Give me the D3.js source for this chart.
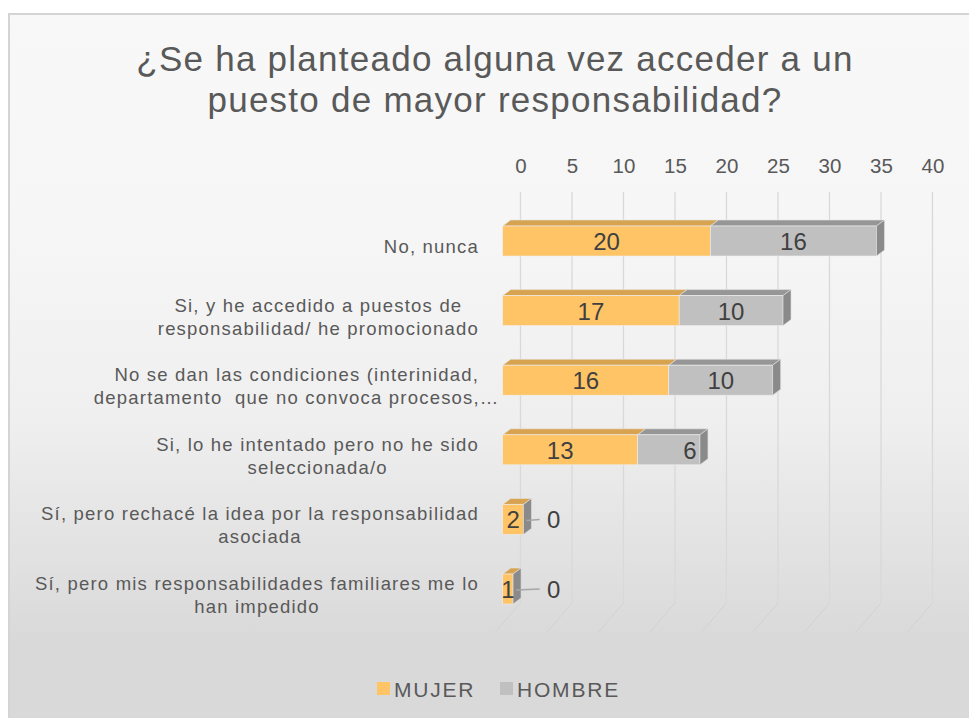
<!DOCTYPE html>
<html>
<head>
<meta charset="utf-8">
<script src="https://cdn.jsdelivr.net/npm/d3@7"></script>
<style>
  html, body { margin: 0; padding: 0; background: #ffffff; }
  svg { display: block; font-family: "Liberation Sans", Arial, sans-serif; }
  text { white-space: pre; }
</style>
</head>
<body>
<svg id="chart" width="969" height="718"></svg>
<script>
// ---- data ----
const title = ["¿Se ha planteado alguna vez acceder a un", "puesto de mayor responsabilidad?"];
const categories = [
  ["No, nunca"],
  ["Si, y he accedido a puestos de", "responsabilidad/ he promocionado"],
  ["No se dan las condiciones (interinidad,", "departamento  que no convoca procesos,…"],
  ["Si, lo he intentado pero no he sido", "seleccionada/o"],
  ["Sí, pero rechacé la idea por la responsabilidad", "asociada"],
  ["Sí, pero mis responsabilidades familiares me lo", "han impedido"]
];
const seriesNames = ["MUJER", "HOMBRE"];
const mujer = [20, 17, 16, 13, 2, 1];
const hombre = [16, 10, 10, 6, 0, 0];
const tickValues = [0, 5, 10, 15, 20, 25, 30, 35, 40];

// ---- styles ----
const colors = {
  MUJER: { front: "#ffc466", top: "#d8a350", side: "#c99443" },
  HOMBRE: { front: "#c0c0c0", top: "#969696", side: "#8a8a8a" }
};
const textColor = "#595959";

const svg = d3.select("#chart");
const W = 969, H = 718;

// background
const defs = svg.append("defs");
const grad = defs.append("linearGradient").attr("id", "bg").attr("x1", 0).attr("y1", 0).attr("x2", 0).attr("y2", 1);
[[0, "#f8f8f8"], [0.3, "#f6f6f6"], [0.55, "#efefef"], [0.85, "#d9d9d9"], [1, "#d9d9d9"]]
  .forEach(([o, c]) => grad.append("stop").attr("offset", o).attr("stop-color", c));
svg.append("rect").attr("x", 9).attr("y", 14).attr("width", W + 20).attr("height", H + 20)
  .attr("fill", "url(#bg)").attr("stroke", "#d4d4d4").attr("stroke-width", 2);

// title
const titleG = svg.append("text").attr("text-anchor", "middle")
  .attr("fill", textColor).style("font-size", "35px").style("letter-spacing", "1.25px");
title.forEach((t, i) => titleG.append("tspan").attr("x", 495).attr("y", 71 + i * 41).text(t));

// scales
const xGrid = d3.scaleLinear().domain([0, 40]).range([520.5, 932.5]);
const xBar = d3.scaleLinear().domain([0, 40]).range([502.7, 918]);
const yC = d3.scalePoint().domain(d3.range(categories.length)).range([241, 589]);
const barH = 30, dx = 8, dy = -6;

// gridlines
const gridTop = 192, gridBottom = 603;
const gridG = svg.append("g");
tickValues.forEach(v => {
  gridG.append("line").attr("x1", xGrid(v)).attr("x2", xGrid(v)).attr("y1", gridTop).attr("y2", gridBottom)
    .attr("stroke", "#d9d9d9").attr("stroke-width", 1.3);
  gridG.append("line").attr("x1", xGrid(v)).attr("x2", xGrid(v) - 25).attr("y1", gridBottom).attr("y2", gridBottom + 29)
    .attr("stroke", "#d2d2d2").attr("stroke-width", 1);
});

// top axis
const axis = d3.axisTop(xGrid).tickValues(tickValues).tickSize(0).tickPadding(0);
const axG = svg.append("g").attr("transform", "translate(0,173)").call(axis);
axG.select(".domain").remove();
axG.selectAll("text").attr("fill", textColor).style("font-size", "20.5px")
  .style("font-family", '"Liberation Sans", Arial, sans-serif');

// category labels
const labG = svg.append("g").attr("fill", textColor).style("font-size", "18.5px").style("letter-spacing", "1.2px");
categories.forEach((lines, i) => {
  const g = labG.append("g");
  const ts = lines.map(l => g.append("text").attr("text-anchor", "middle").text(l));
  const widths = ts.map(t => t.node().getComputedTextLength());
  const ref = d3.max(lines.map((l, k) => l.endsWith("…") ? 0 : widths[k]));
  const cx = 479 - ref / 2;
  const lh = 23;
  const y0 = lines.length > 1 ? yC(i) + 1 : yC(i) + 12;
  ts.forEach((t, k) => t.attr("x", cx).attr("y", y0 + k * lh));
});

// bars (3D)
const barG = svg.append("g");
const labelsG = svg.append("g").attr("fill", "#404040").style("font-size", "24px").attr("text-anchor", "middle");
categories.forEach((_, i) => {
  const cy = yC(i);
  const yTop = cy - barH / 2;
  const segs = [
    { name: "MUJER", v0: 0, v1: mujer[i], val: mujer[i] },
    { name: "HOMBRE", v0: mujer[i], v1: mujer[i] + hombre[i], val: hombre[i] }
  ];
  segs.forEach(s => {
    const x0 = xBar(s.v0), x1 = xBar(s.v1);
    const c = colors[s.name];
    if (s.val > 0) {
      barG.append("path")
        .attr("d", `M${x0},${yTop} L${x0 + dx},${yTop + dy} L${x1 + dx},${yTop + dy} L${x1},${yTop} Z`)
        .attr("fill", c.top).attr("stroke", "#e8e8e8").attr("stroke-width", 0.6);
      barG.append("rect").attr("x", x0).attr("y", yTop).attr("width", x1 - x0).attr("height", barH)
        .attr("fill", c.front).attr("stroke", "#eeeeee").attr("stroke-width", 0.6);
    }
  });
  // right side face of the stack
  const xe = xBar(mujer[i] + hombre[i]);
  barG.append("path")
    .attr("d", `M${xe},${yTop} L${xe + dx},${yTop + dy} L${xe + dx},${yTop + dy + barH} L${xe},${yTop + barH} Z`)
    .attr("fill", colors.HOMBRE.side).attr("stroke", "#e0e0e0").attr("stroke-width", 0.6);

  // data labels
  segs.forEach((s, si) => {
    if (s.val > 0) {
      let lx = (xBar(s.v0) + xBar(s.v1)) / 2;
      if (si === 1 && s.val < 8) lx = xBar(s.v1) - 10;
      if (si === 0 && s.val > 10 && hombre[i] < 8) lx -= 10;
      labelsG.append("text").attr("x", lx).attr("y", cy + 9).text(s.val);
    } else {
      svg.append("line").attr("x1", xe + 3).attr("x2", xBar(0) + 37).attr("y1", cy + 1).attr("y2", cy)
        .attr("stroke", "#a6a6a6").attr("stroke-width", 1.5);
      labelsG.append("text").attr("x", xBar(0) + 51).attr("y", cy + 9).text(s.val);
    }
  });
});

// legend
const legG = svg.append("g").style("font-size", "21px").style("letter-spacing", "1.8px").attr("fill", textColor);
const legItems = [{ name: "MUJER", x: 377 }, { name: "HOMBRE", x: 500 }];
legItems.forEach(it => {
  legG.append("rect").attr("x", it.x).attr("y", 682).attr("width", 13).attr("height", 13)
    .attr("fill", colors[it.name].front);
  legG.append("text").attr("x", it.x + 17).attr("y", 697).text(it.name);
});
</script>
</body>
</html>
